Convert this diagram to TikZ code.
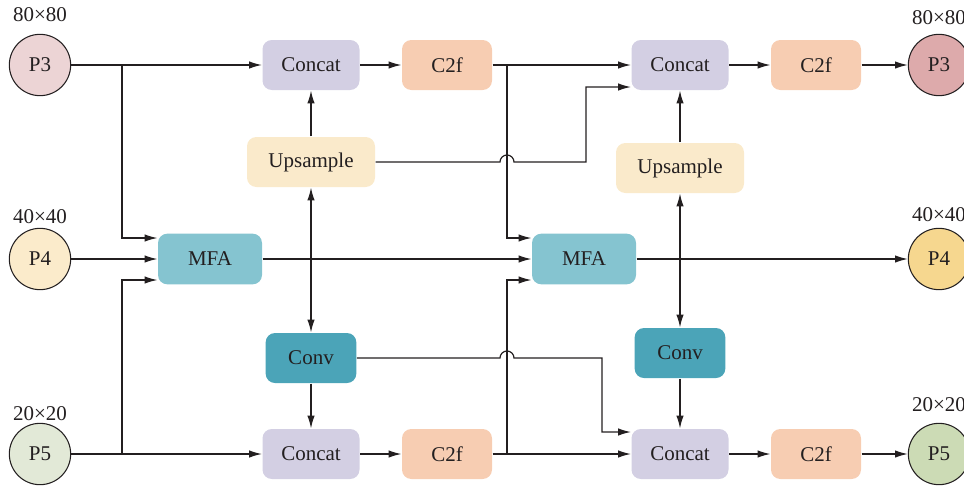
\documentclass[tikz,border=0pt]{standalone}
\usepackage{fontspec}
\setmainfont{Liberation Serif}
\usetikzlibrary{arrows.meta}

\definecolor{linec}{RGB}{35,31,32}
\definecolor{catc}{RGB}{211,207,227}
\definecolor{c2fc}{RGB}{247,205,178}
\definecolor{upsc}{RGB}{250,234,203}
\definecolor{mfac}{RGB}{133,196,208}
\definecolor{convc}{RGB}{75,164,184}
\definecolor{pthreea}{RGB}{236,212,213}
\definecolor{pthreeb}{RGB}{221,170,171}
\definecolor{pfoura}{RGB}{251,235,203}
\definecolor{pfourb}{RGB}{246,215,143}
\definecolor{pfivea}{RGB}{226,233,215}
\definecolor{pfiveb}{RGB}{204,219,181}

\tikzset{
    blk/.style={rounded corners=7pt, minimum height=37.5pt, inner sep=0pt,
        text=linec, font=\fontsize{15.75}{18}\selectfont},
    catbox/.style={blk, fill=catc, minimum width=72.75pt},
    c2fbox/.style={blk, fill=c2fc, minimum width=67.5pt},
    upsbox/.style={blk, fill=upsc, minimum width=96pt},
    mfabox/.style={blk, fill=mfac, minimum width=78pt, minimum height=38pt},
    convbox/.style={blk, fill=convc, minimum width=68pt},
    feat/.style={circle, draw=linec, line width=0.8pt, minimum size=46pt,
        inner sep=0pt, text=linec, font=\fontsize{15.75}{18}\selectfont},
    sizelbl/.style={text=linec, font=\fontsize{15.75}{18}\selectfont}
}

\begin{document}
\begin{tikzpicture}[>={Latex[length=9.5pt,width=5.5pt]}, x=0.75pt, y=0.75pt,
    color=linec, line width=0.9pt]
    \useasboundingbox (0,0) rectangle (964,-486);

    % 1. Các nút đặc trưng hai bên
    \node[feat, fill=pthreea] (p3a) at (40,-65) {P3};
    \node[feat, fill=pfoura] (p4a) at (40,-259) {P4};
    \node[feat, fill=pfivea] (p5a) at (40,-454) {P5};
    \node[feat, fill=pthreeb] (p3b) at (939,-65) {P3};
    \node[feat, fill=pfourb] (p4b) at (939,-259) {P4};
    \node[feat, fill=pfiveb] (p5b) at (939,-454) {P5};
    \node[sizelbl] (s3a) at (40,-15) {80×80};
    \node[sizelbl] (s4a) at (40,-217) {40×40};
    \node[sizelbl] (s5a) at (40,-414) {20×20};
    \node[sizelbl] (s3b) at (939,-18) {80×80};
    \node[sizelbl] (s4b) at (939,-215) {40×40};
    \node[sizelbl] (s5b) at (939,-405) {20×20};

    % 2. Các khối
    \node[catbox] (cat1) at (311,-65) {Concat};
    \node[c2fbox] (c2f1) at (447,-65) {C2f};
    \node[catbox] (cat2) at (680,-65) {Concat};
    \node[c2fbox] (c2f2) at (816,-65) {C2f};
    \node[upsbox] (ups1) at (311,-162) {Upsample};
    \node[upsbox] (ups2) at (680,-168) {Upsample};
    \node[mfabox] (mfa1) at (210,-259) {MFA};
    \node[mfabox] (mfa2) at (584,-259) {MFA};
    \node[convbox] (conv1) at (311,-358) {Conv};
    \node[convbox] (conv2) at (680,-353) {Conv};
    \node[catbox] (cat3) at (311,-454) {Concat};
    \node[c2fbox] (c2f3) at (447,-454) {C2f};
    \node[catbox] (cat4) at (680,-454) {Concat};
    \node[c2fbox] (c2f4) at (816,-454) {C2f};

    % 3. Các điểm rẽ nhánh
    \coordinate (j1) at (122,-65);
    \coordinate (j2) at (122,-454);
    \coordinate (j3) at (507,-65);
    \coordinate (j4) at (507,-454);
    \coordinate (h1) at (500,-162);
    \coordinate (k1) at (586,-162);
    \coordinate (h2) at (500,-358);
    \coordinate (k2) at (602,-358);

    % 4. Hàng trên
    \draw[->] (p3a) -- (cat1);
    \draw[->] (cat1) -- (c2f1);
    \draw[->] (c2f1) -- (cat2);
    \draw[->] (cat2) -- (c2f2);
    \draw[->] (c2f2) -- (p3b);
    \draw[->] (ups1) -- (cat1);
    \draw[->] (ups2) -- (cat2);
    \draw[->] (ups1.east) -- (h1) arc[start angle=180, end angle=0, radius=5.25pt]
        -- (k1) |- ([yshift=-16.5pt]cat2.west);

    % 5. Hàng giữa
    \draw[->] (j1) |- ([yshift=15.75pt]mfa1.west);
    \draw[->] (j2) |- ([yshift=-15.75pt]mfa1.west);
    \draw[->] (j3) |- ([yshift=15.75pt]mfa2.west);
    \draw[->] (j4) |- ([yshift=-15.75pt]mfa2.west);
    \draw[->] (p4a) -- (mfa1);
    \draw[->] (mfa1) -- (mfa2);
    \draw[->] (mfa2) -- (p4b);
    \draw[<->] (ups1) -- (conv1);
    \draw[<->] (ups2) -- (conv2);

    % 6. Hàng dưới
    \draw[->] (conv1) -- (cat3);
    \draw[->] (conv2) -- (cat4);
    \draw[->] (p5a) -- (cat3);
    \draw[->] (cat3) -- (c2f3);
    \draw[->] (c2f3) -- (cat4);
    \draw[->] (cat4) -- (c2f4);
    \draw[->] (c2f4) -- (p5b);
    \draw[->] (conv1.east) -- (h2) arc[start angle=180, end angle=0, radius=5.25pt]
        -- (k2) |- ([yshift=16.5pt]cat4.west);
\end{tikzpicture}
\end{document}
